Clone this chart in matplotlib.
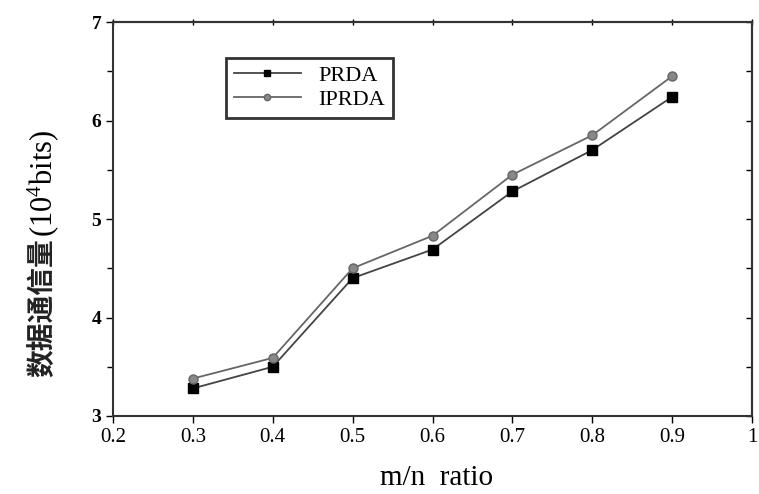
import matplotlib
matplotlib.use("Agg")
import matplotlib.pyplot as plt
from matplotlib.ticker import MultipleLocator, NullFormatter

plt.rcParams["mathtext.fontset"] = "custom"
plt.rcParams["mathtext.rm"] = "Liberation Serif"
plt.rcParams["mathtext.it"] = "Liberation Serif:italic"

x = [0.3, 0.4, 0.5, 0.6, 0.7, 0.8, 0.9]
prda = [3.28, 3.50, 4.40, 4.69, 5.28, 5.70, 6.24]
iprda = [3.38, 3.59, 4.50, 4.83, 5.45, 5.85, 6.45]
xticks = [0.2, 0.3, 0.4, 0.5, 0.6, 0.7, 0.8, 0.9, 1]
xticklabels = ["0.2", "0.3", "0.4", "0.5", "0.6", "0.7", "0.8", "0.9", "1"]
yticks = [3, 4, 5, 6, 7]
ylabel_cjk = "数据通信量"
ylabel_unit = "(10$^4$bits)"
xlabel = "m/n  ratio"

serif = ["Liberation Serif", "DejaVu Serif"]
cjk = ["Noto Sans CJK SC", "DejaVu Sans"]

W, H = 759, 494
fig = plt.figure(figsize=(W/100, H/100), dpi=100)
ax = fig.add_axes([113/W, 1 - 416/H, (752-113)/W, (416-22)/H])

ax.plot(x, prda, color="#444444", lw=1.3, marker="s", ms=6.5, mfc="black", mec="black", label="PRDA")
ax.plot(x, iprda, color="#666666", lw=1.3, marker="o", ms=6.5, mfc="#888888", mec="#666666", label="IPRDA")

ax.set_xlim(0.2, 1.0)
ax.set_ylim(3, 7)
ax.set_xticks(xticks)
ax.set_xticklabels(xticklabels, fontfamily=serif, fontsize=15)
ax.set_yticks(yticks)
ax.set_yticklabels([str(v) for v in yticks], fontfamily=serif, fontsize=14, fontweight="bold")
ax.yaxis.set_minor_locator(MultipleLocator(0.5))
ax.tick_params(axis="both", which="major", direction="out", length=5, width=1, top=False, right=False)
ax.tick_params(axis="y", which="minor", direction="out", length=4, width=1, right=False)

sec_y = ax.secondary_yaxis("right")
sec_y.set_yticks([3, 3.5, 4, 4.5, 5, 5.5, 6, 6.5, 7])
sec_y.yaxis.set_major_formatter(NullFormatter())
sec_y.tick_params(direction="in", length=4, width=1)
sec_x = ax.secondary_xaxis("top")
sec_x.set_xticks(xticks)
sec_x.xaxis.set_major_formatter(NullFormatter())
sec_x.tick_params(direction="inout", length=5, width=1)

for s in list(ax.spines.values()) + [sec_y.spines["right"], sec_x.spines["top"]]:
    s.set_linewidth(1.5)
    s.set_color("#333333")

fig.text(437/W, 1 - 478/H, xlabel, fontfamily=serif, fontsize=21, ha="center", va="center")

# y label: CJK part (bottom) + unit part (top), stacked vertically
t1 = fig.text(43/W, 1 - 377/H, ylabel_cjk, fontfamily=cjk, fontsize=20, fontweight="bold",
              rotation=90, ha="center", va="bottom", color="#222222")
r = fig.canvas.get_renderer()
bb = t1.get_window_extent(renderer=r)
fig.text(43/W, (bb.y1 + 1)/H, ylabel_unit, fontfamily=serif, fontsize=22,
         rotation=90, ha="center", va="bottom")

leg = ax.legend(loc="upper left", bbox_to_anchor=(0.177, 0.909), borderaxespad=0,
                frameon=True, fancybox=False,
                prop={"family": serif, "size": 16}, handlelength=3, borderpad=0.35,
                labelspacing=0.15, edgecolor="black", markerscale=0.7)
leg.get_frame().set_linewidth(2)

fig.savefig("out.png", dpi=100)
